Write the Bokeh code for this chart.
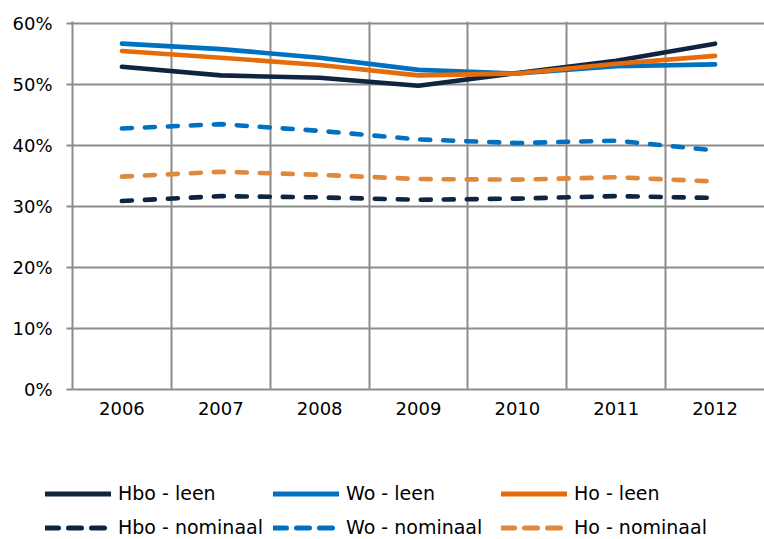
from bokeh.plotting import figure
from bokeh.models import Range1d, FixedTicker, PrintfTickFormatter, Legend, LegendItem
from bokeh.layouts import column
from bokeh.embed import file_html
from bokeh.resources import INLINE

years = ["2006", "2007", "2008", "2009", "2010", "2011", "2012"]
y_ticks = [0, 10, 20, 30, 40, 50, 60]

hbo_leen = [52.9, 51.5, 51.1, 49.8, 51.9, 53.9, 56.7]
wo_leen = [56.7, 55.8, 54.4, 52.4, 51.8, 53.0, 53.3]
ho_leen = [55.5, 54.4, 53.2, 51.5, 51.8, 53.4, 54.7]
hbo_nom = [30.9, 31.7, 31.5, 31.1, 31.3, 31.7, 31.4]
wo_nom = [42.8, 43.5, 42.4, 41.0, 40.4, 40.8, 39.2]
ho_nom = [34.9, 35.7, 35.2, 34.5, 34.4, 34.8, 34.1]

series = [
    ("Hbo - leen", hbo_leen, "#0f2440", "solid"),
    ("Wo - leen", wo_leen, "#0070c0", "solid"),
    ("Ho - leen", ho_leen, "#e46c0a", "solid"),
    ("Hbo - nominaal", hbo_nom, "#0f2440", "dashed"),
    ("Wo - nominaal", wo_nom, "#0070c0", "dashed"),
    ("Ho - nominaal", ho_nom, "#e0883b", "dashed"),
]

FONT = "DejaVu Sans"
GRID = "#8c8c8c"
LW = 4.6

x = list(range(len(years)))

p = figure(width=764, height=440, output_backend="svg", toolbar_location=None,
           x_range=Range1d(-0.5, len(years) - 0.5), y_range=Range1d(0, 60.33),
           min_border_left=72, min_border_right=0, min_border_top=21, min_border_bottom=51)
p.outline_line_color = None
p.background_fill_color = "white"
p.border_fill_color = "white"
p.frame_align = False

# axes
p.yaxis.ticker = FixedTicker(ticks=y_ticks)
p.yaxis.formatter = PrintfTickFormatter(format="%d%%")
p.yaxis.axis_line_color = GRID
p.yaxis.axis_line_width = 2
p.yaxis.major_tick_line_color = GRID
p.yaxis.major_tick_line_width = 2
p.yaxis.major_tick_out = 6
p.yaxis.major_tick_in = 0
p.yaxis.minor_tick_line_color = None
p.yaxis.major_label_standoff = 14
p.yaxis.major_label_text_font = FONT
p.yaxis.major_label_text_font_size = "18px"
p.yaxis.major_label_text_color = "#000000"

p.xaxis.ticker = FixedTicker(ticks=x)
p.xaxis.major_label_overrides = {i: years[i] for i in x}
p.xaxis.axis_line_color = GRID
p.xaxis.axis_line_width = 2
p.xaxis.major_tick_line_color = None
p.xaxis.major_tick_out = 0
p.xaxis.major_tick_in = 0
p.xaxis.minor_tick_line_color = None
p.xaxis.major_label_standoff = 12
p.xaxis.major_label_text_font = FONT
p.xaxis.major_label_text_font_size = "18px"
p.xaxis.major_label_text_color = "#000000"

# grids
p.ygrid.ticker = FixedTicker(ticks=y_ticks)
p.ygrid.grid_line_color = GRID
p.ygrid.grid_line_width = 2
p.xgrid.ticker = FixedTicker(ticks=[i + 0.5 for i in x[:-1]])
p.xgrid.grid_line_color = GRID
p.xgrid.grid_line_width = 2

for name, vals, color, dash in series:
    p.line(x, vals, line_color=color, line_width=LW, line_cap="round", line_join="round",
           line_dash="10 13" if dash == "dashed" else "solid")

# legend panel below the chart
leg = figure(width=764, height=99, output_backend="svg", toolbar_location=None,
             x_range=Range1d(0, 1), y_range=Range1d(0, 1),
             x_axis_location=None, y_axis_location=None,
             min_border=0)
leg.outline_line_color = None
leg.xgrid.visible = False
leg.ygrid.visible = False
leg.border_fill_color = "white"
leg.frame_align = False

nan = float("nan")
items = []
for name, vals, color, dash in series:
    r = leg.line(x=[nan], y=[nan], line_color=color, line_width=5, line_cap="round",
                 line_dash="13 10" if dash == "dashed" else "solid")
    items.append(LegendItem(label=name, renderers=[r]))

legend = Legend(items=items, location=(45, -2.5), orientation="horizontal", ncols=3,
                glyph_width=66, glyph_height=29, label_height=29, label_width=150,
                label_standoff=7, spacing=5, padding=0, margin=0,
                border_line_color=None, background_fill_color=None,
                label_text_font=FONT, label_text_font_size="19px", label_text_color="#000000")
leg.add_layout(legend, "center")

layout = column(p, leg, spacing=0)
open("out.html", "w").write(file_html(layout, INLINE))
